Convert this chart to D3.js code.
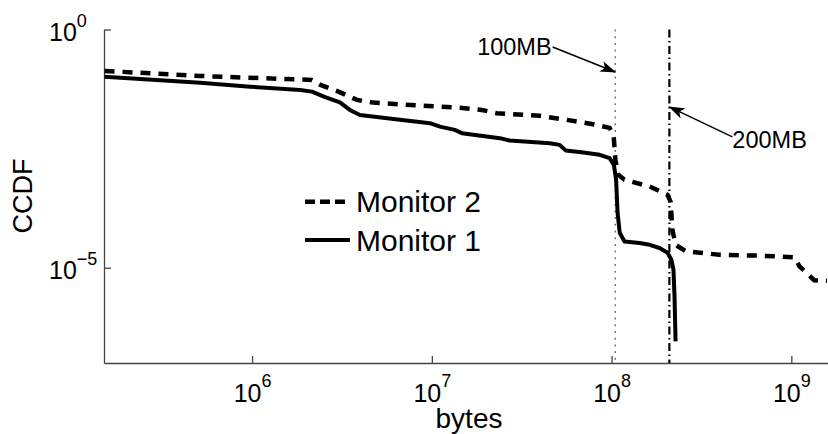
<!DOCTYPE html>
<html lang="en">
<head>
  <meta charset="UTF-8" />
  <title>CCDF of transfer sizes</title>
  <script src="https://d3js.org/d3.v7.min.js"></script>
  <style>
    body { margin: 0; background: #fff; }
    svg { display: block; font-family: "Liberation Sans", Arial, sans-serif; }
  </style>
</head>
<body>
  <div id="chart"></div>

  <script>
    // Monitor 1 (solid line): bytes and CCDF
    const m1Bytes = [1.51e5, 5.14e5, 9.75e5, 1.85e6, 2.15e6, 2.55e6, 3.08e6, 3.5e6, 3.98e6,
      6.64e6, 9.75e6, 1.11e7, 1.34e7, 1.47e7, 2.39e7, 2.71e7, 4.53e7, 5.14e7, 5.55e7,
      6.8e7, 8.58e7, 9.75e7, 1.03e8, 1.06e8, 1.08e8, 1.11e8, 1.18e8, 1.43e8, 1.63e8,
      1.85e8, 2.05e8, 2.15e8, 2.21e8, 2.24e8, 2.27e8];
    const m1Ccdf = [0.102, 0.0767, 0.0632, 0.0539, 0.0497, 0.0379, 0.0295, 0.0205, 0.0161,
      0.0127, 0.0108, 0.00917, 0.00781, 0.00667, 0.00524, 0.00467, 0.00411, 0.00379, 0.0029,
      0.00265, 0.00234, 0.002, 0.00144, 7.0e-4, 1.42e-4, 5.4e-5, 3.56e-5, 3.3e-5, 3.03e-5,
      2.59e-5, 2.06e-5, 1.47e-5, 9.1e-6, 2.47e-6, 2.85e-7];

    // Monitor 2 (dashed line)
    const m2Bytes = [1.51e5, 5.14e5, 2.15e6, 2.4e6, 3.05e6, 3.83e6, 4.7e6, 8.58e6, 1.43e7,
      1.9e7, 2.3e7, 3.98e7, 5.34e7, 6.81e7, 8.25e7, 9.75e7, 1.026e8, 1.05e8, 1.09e8, 1.18e8,
      1.63e8, 2.05e8, 2.13e8, 2.18e8, 2.27e8, 2.58e8, 3.98e8, 6.64e8, 1.04e9, 1.11e9,
      1.26e9, 1.34e9, 1.58e9];
    const m2Ccdf = [0.135, 0.106, 0.0873, 0.0686, 0.049, 0.0333, 0.0292, 0.0253, 0.0229,
      0.0205, 0.0175, 0.0154, 0.0131, 0.0113, 0.00995, 0.0086, 0.00614, 0.00184, 8.9e-4, 7.0e-4,
      5.06e-4, 3.39e-4, 2.42e-4, 6.27e-5, 3.03e-5, 2.22e-5, 1.87e-5, 1.79e-5, 1.66e-5, 1.07e-5,
      6.8e-6, 5.47e-6, 5.3e-6];

    const xTickExps = [6, 7, 8, 9];
    const yTickExps = [0, -5];
    const markerBytes = [100 * 2 ** 20, 200 * 2 ** 20];
    const markerLabels = ["100MB", "200MB"];
    // arrow tail (bytes, ccdf) and tip ccdf for each marker annotation
    const arrowTailBytes = [4.7e7, 4.7e8];
    const arrowTailCcdf = [0.43, 0.00558];
    const arrowTipCcdf = [0.128, 0.0237];
    const legendLabels = ["Monitor 2", "Monitor 1"];

    const width = 828, height = 434;
    const axisColor = "#444";

    const x = d3.scaleLog().domain([1.5e5, 1.6e9]).range([104, 828]);
    const y = d3.scaleLog().domain([1e-7, 1]).range([363, 29.5]);

    const svg = d3.select("#chart").append("svg")
      .attr("width", width)
      .attr("height", height);

    svg.append("defs").append("clipPath").attr("id", "plot")
      .append("rect")
      .attr("x", x.range()[0]).attr("y", y.range()[1])
      .attr("width", x.range()[1] - x.range()[0])
      .attr("height", y.range()[0] - y.range()[1]);

    svg.select("defs").append("marker")
      .attr("id", "head")
      .attr("markerUnits", "userSpaceOnUse")
      .attr("viewBox", "0 -6 16 12")
      .attr("refX", 15).attr("refY", 0)
      .attr("markerWidth", 16).attr("markerHeight", 12)
      .attr("orient", "auto")
      .append("path")
      .attr("d", "M0,-5.5L16,0L0,5.5L4,0Z")
      .attr("fill", "#000");

    // minor ticks on x
    const minorVals = [];
    for (let e = 5; e <= 9; e++) {
      for (let k = 2; k <= 9; k++) {
        const v = k * 10 ** e;
        if (v >= x.domain()[0] && v <= x.domain()[1]) minorVals.push(v);
      }
    }

    const gx = svg.append("g").attr("transform", `translate(0,${y.range()[0]})`);
    gx.call(d3.axisBottom(x).tickValues(minorVals).tickSizeInner(-3.5).tickSizeOuter(0).tickFormat(""));
    gx.call(d3.axisBottom(x).tickValues(xTickExps.map(e => 10 ** e)).tickSizeInner(-7).tickSizeOuter(0).tickFormat(""));
    gx.selectAll("path, line").attr("stroke", axisColor).attr("stroke-width", 1.3);
    gx.selectAll(".tick text").filter(d => Math.abs(Math.log10(d) % 1) < 1e-9)
      .attr("y", 39).attr("dy", null)
      .attr("font-size", 25).attr("fill", "#000")
      .text("10")
      .append("tspan").attr("dy", -15).attr("font-size", 18)
      .text(d => Math.round(Math.log10(d)));
    gx.attr("font-family", null);

    const gy = svg.append("g").attr("transform", `translate(${x.range()[0]},0)`);
    gy.call(d3.axisLeft(y).tickValues(yTickExps.map(e => 10 ** e)).tickSizeInner(-7).tickSizeOuter(0).tickFormat(""));
    gy.selectAll("path, line").attr("stroke", axisColor).attr("stroke-width", 1.3);
    gy.attr("font-family", null);
    gy.selectAll(".tick text")
      .attr("x", -55).attr("y", 10.5).attr("dy", null)
      .attr("text-anchor", "start")
      .attr("font-size", 25).attr("fill", "#000")
      .text("10")
      .append("tspan").attr("dy", -14).attr("font-size", 18)
      .text(d => { const e = Math.round(Math.log10(d)); return e < 0 ? "\u2212" + (-e) : e; });

    // axis titles
    svg.append("text")
      .attr("x", 469).attr("y", 428)
      .attr("text-anchor", "middle").attr("font-size", 28)
      .text("bytes");
    svg.append("text")
      .attr("transform", "translate(32,196) rotate(-90)")
      .attr("text-anchor", "middle").attr("font-size", 27)
      .text("CCDF");

    // vertical size markers
    svg.append("line")
      .attr("x1", x(markerBytes[0])).attr("x2", x(markerBytes[0]))
      .attr("y1", y(1)).attr("y2", y.range()[0])
      .attr("stroke", "#777").attr("stroke-width", 1.5)
      .attr("stroke-dasharray", "2,4.7");
    svg.append("line")
      .attr("x1", x(markerBytes[1])).attr("x2", x(markerBytes[1]))
      .attr("y1", y(1)).attr("y2", y.range()[0])
      .attr("stroke", "#000").attr("stroke-width", 2.2)
      .attr("stroke-dasharray", "8,3.5,1.5,3.5");

    // series
    const line = d3.line().x(d => x(d[0])).y(d => y(d[1]));
    const plot = svg.append("g").attr("clip-path", "url(#plot)");
    plot.append("path")
      .attr("d", line(d3.zip(m2Bytes, m2Ccdf)))
      .attr("fill", "none").attr("stroke", "#000")
      .attr("stroke-width", 4.5).attr("stroke-dasharray", "10,8");
    plot.append("path")
      .attr("d", line(d3.zip(m1Bytes, m1Ccdf)))
      .attr("fill", "none").attr("stroke", "#000")
      .attr("stroke-width", 4).attr("stroke-linejoin", "round");

    // annotations
    markerBytes.forEach((b, i) => {
      const tx = x(arrowTailBytes[i]), ty = y(arrowTailCcdf[i]);
      svg.append("line")
        .attr("x1", tx).attr("y1", ty)
        .attr("x2", x(b)).attr("y2", y(arrowTipCcdf[i]))
        .attr("stroke", "#000").attr("stroke-width", 1.5)
        .attr("marker-end", "url(#head)");
      svg.append("text")
        .attr("x", i === 0 ? tx - 1 : tx)
        .attr("y", i === 0 ? ty + 8 : ty + 11)
        .attr("text-anchor", i === 0 ? "end" : "start")
        .attr("font-size", 23.5)
        .text(markerLabels[i]);
    });

    // legend
    const legend = svg.append("g");
    legendLabels.forEach((name, i) => {
      const ly = i === 0 ? 201.7 : 240;
      legend.append("line")
        .attr("x1", 305).attr("x2", 350).attr("y1", ly).attr("y2", ly)
        .attr("stroke", "#000")
        .attr("stroke-width", i === 0 ? 4.5 : 4)
        .attr("stroke-dasharray", i === 0 ? "10,5" : null);
      legend.append("text")
        .attr("x", 356).attr("y", ly + 10.5)
        .attr("font-size", 30)
        .text(name);
    });
  </script>
</body>
</html>
